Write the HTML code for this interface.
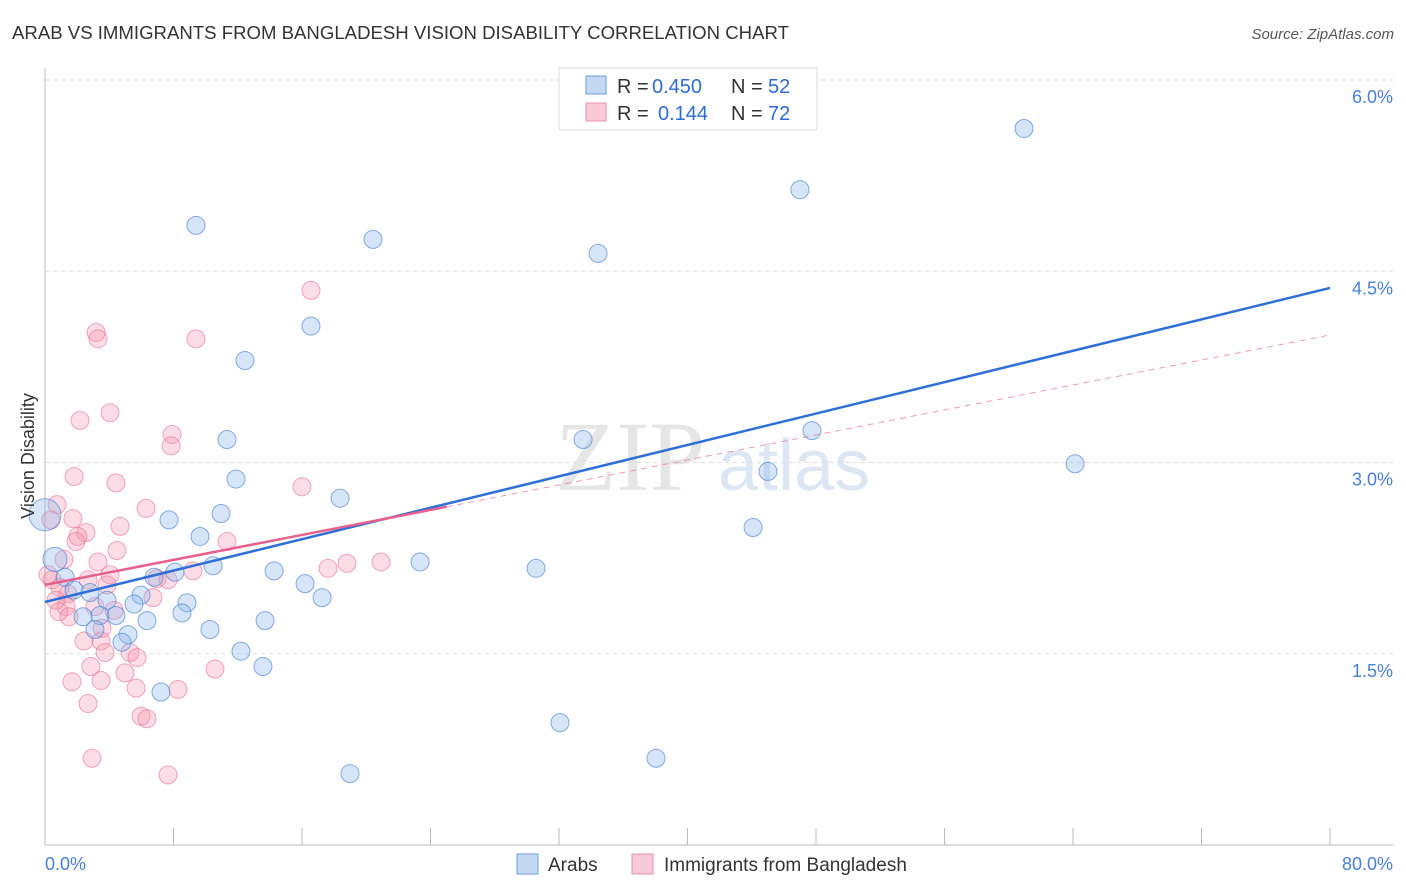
<!DOCTYPE html>
<html><head><meta charset="utf-8"><style>
body{margin:0;background:#fff;font-family:"Liberation Sans",sans-serif;}
svg{display:block}
</style></head><body>
<svg id="chart" width="1406" height="892" xmlns="http://www.w3.org/2000/svg">
<text x="12" y="39" font-size="18.6" fill="#333">ARAB VS IMMIGRANTS FROM BANGLADESH VISION DISABILITY CORRELATION CHART</text>
<text x="1394" y="39" font-size="15" fill="#555" font-style="italic" text-anchor="end">Source: ZipAtlas.com</text>
<text x="555" y="490" font-size="100" fill="#e6e6e6" font-family="Liberation Serif,serif">ZIP</text>
<text x="718" y="490" font-size="72" fill="#dde6f3">atlas</text>
<g id="grid"></g><g id="axes"></g><g id="pts"></g><g id="lines"></g>
<text transform="translate(34,456) rotate(-90)" font-size="18" fill="#333" text-anchor="middle">Vision Disability</text>
<g>
<rect x="559" y="68" width="258" height="62" fill="#fff" stroke="#ddd"/>
<rect x="586" y="76" width="20" height="18" fill="#c5d9f5" stroke="#6f9de0"/>
<rect x="586" y="103" width="20" height="18" fill="#f9cad7" stroke="#ec8fab"/>
<text x="617" y="93" font-size="20" fill="#333">R =</text>
<text x="652" y="93" font-size="20" fill="#2f6bd4">0.450</text>
<text x="731" y="93" font-size="20" fill="#333">N =</text>
<text x="768" y="93" font-size="20" fill="#2f6bd4">52</text>
<text x="617" y="120" font-size="20" fill="#333">R =</text>
<text x="658" y="120" font-size="20" fill="#2f6bd4">0.144</text>
<text x="731" y="120" font-size="20" fill="#333">N =</text>
<text x="768" y="120" font-size="20" fill="#2f6bd4">72</text>
</g>
<g>
<rect x="517" y="854" width="21" height="20" fill="#c5d9f5" stroke="#6f9de0"/>
<text x="548" y="871" font-size="19" fill="#333">Arabs</text>
<rect x="632" y="854" width="21" height="20" fill="#f9cad7" stroke="#ec8fab"/>
<text x="664" y="871" font-size="19" fill="#333">Immigrants from Bangladesh</text>
</g>
</svg>
<script>
const xTicks=[0,80];
const yTicks=[1.5,3.0,4.5,6.0];
const yTickLabels=["1.5%","3.0%","4.5%","6.0%"];
const arabX=[60.95,47.0,9.40,20.42,34.43,16.56,12.45,47.75,33.5,11.33,64.13,45.01,11.89,18.37,10.96,7.72,44.08,9.65,23.35,10.46,30.57,14.26,8.09,6.79,16.19,1.25,1.81,2.80,3.86,5.98,17.25,5.54,8.84,8.53,4.42,3.42,2.37,6.35,13.70,10.27,3.11,5.17,4.79,12.20,13.57,7.22,32.06,38.04,18.99,0,0.62];
const arabY=[5.62,5.14,4.86,4.75,4.64,4.07,3.80,3.25,3.18,3.18,2.99,2.93,2.87,2.72,2.60,2.55,2.49,2.42,2.22,2.19,2.17,2.15,2.14,2.10,2.05,2.10,2.00,1.98,1.92,1.96,1.94,1.89,1.90,1.82,1.80,1.80,1.79,1.76,1.76,1.69,1.69,1.65,1.59,1.52,1.40,1.20,0.96,0.68,0.56,2.59,2.24];
const bangX=[16.56,3.18,3.30,9.40,4.05,2.18,7.91,7.85,1.81,4.42,16.0,0.75,6.29,1.74,4.67,2.55,2.05,1.93,11.33,4.48,1.18,3.30,18.80,20.92,17.62,9.21,4.05,6.97,7.66,2.68,0.44,3.86,0.93,1.43,6.72,0.68,3.11,1.31,4.30,0.87,1.49,3.55,2.43,3.49,5.29,3.74,5.73,2.86,10.58,4.98,1.68,3.49,5.67,8.28,2.68,5.98,6.35,2.93,7.66,0.37,0.19];
const bangY=[4.35,4.02,3.97,3.97,3.39,3.33,3.22,3.13,2.89,2.84,2.81,2.67,2.64,2.56,2.50,2.45,2.42,2.38,2.38,2.31,2.24,2.22,2.21,2.22,2.17,2.15,2.12,2.09,2.08,2.08,2.08,2.04,2.02,1.97,1.94,1.92,1.87,1.87,1.84,1.83,1.79,1.70,1.60,1.60,1.51,1.51,1.47,1.40,1.38,1.35,1.28,1.29,1.23,1.22,1.11,1.01,0.99,0.68,0.55,2.55,2.12];
const arabTrend=[1.906,4.369];
const bangTrend=[2.04,4.0];
const bangSolidEnd=25;
const NS="http://www.w3.org/2000/svg";
const X=v=>45+v/80*1285, Y=v=>845-v/6*765;
function mk(t,a,p){const e=document.createElementNS(NS,t);for(const k in a)e.setAttribute(k,a[k]);p.appendChild(e);return e;}
const grid=document.getElementById('grid'),axes=document.getElementById('axes'),pts=document.getElementById('pts'),lines=document.getElementById('lines');
yTicks.forEach((t,i)=>{
 const l=mk('line',{x1:45,x2:1393,y1:Y(t),y2:Y(t),stroke:'#ddd','stroke-dasharray':'4,4'},grid);
 
 
 const tx=mk('text',{x:1393,y:Y(t)+23,'font-size':18,fill:'#4a7fd6','text-anchor':'end'},axes);
 tx.textContent=yTickLabels[i];
 
 
});
mk('line',{x1:45,x2:45,y1:68,y2:845,stroke:'#bbb'},axes);
mk('line',{x1:45,x2:1393,y1:845,y2:845,stroke:'#bbb'},axes);
for(let k=1;k<=10;k++){const x=X(k*8);mk('line',{x1:x,x2:x,y1:828,y2:845,stroke:'#bbb'},axes);}
xTicks.forEach((t,i)=>{
 const tx=mk('text',{x:i?1393:45,y:870,'font-size':18,fill:'#4a7fd6','text-anchor':i?'end':'start'},axes);
 tx.textContent=t.toFixed(1)+'%';
 
 
});
bangX.forEach((v,i)=>{
 const c=mk('circle',{cx:X(v),cy:Y(bangY[i]),r:9,fill:'rgba(244,143,170,0.3)',stroke:'rgba(232,110,145,0.6)'},pts);
 
 
});
arabX.forEach((v,i)=>{
 const big=i>=arabX.length-2;
 const c=mk('circle',{cx:X(v),cy:Y(arabY[i]),r:big?(i==arabX.length-2?16:12):9,fill:'rgba(140,180,235,0.35)',stroke:'rgba(70,130,215,0.65)'},pts);
 
 
});
const bt=v=>bangTrend[0]+(bangTrend[1]-bangTrend[0])*v/80;
let d=mk('line',{x1:X(bangSolidEnd),y1:Y(bt(bangSolidEnd)),x2:X(80),y2:Y(bangTrend[1]),stroke:'#e86f93','stroke-width':1,'stroke-dasharray':'6,5',opacity:0.7},lines);


let a=mk('line',{x1:X(0),y1:Y(arabTrend[0]),x2:X(80),y2:Y(arabTrend[1]),stroke:'#2e6fd8','stroke-width':2.5},lines);


let b=mk('line',{x1:X(0),y1:Y(bangTrend[0]),x2:X(bangSolidEnd),y2:Y(bt(bangSolidEnd)),stroke:'#e8618c','stroke-width':2.5},lines);


</script>
</body></html>
